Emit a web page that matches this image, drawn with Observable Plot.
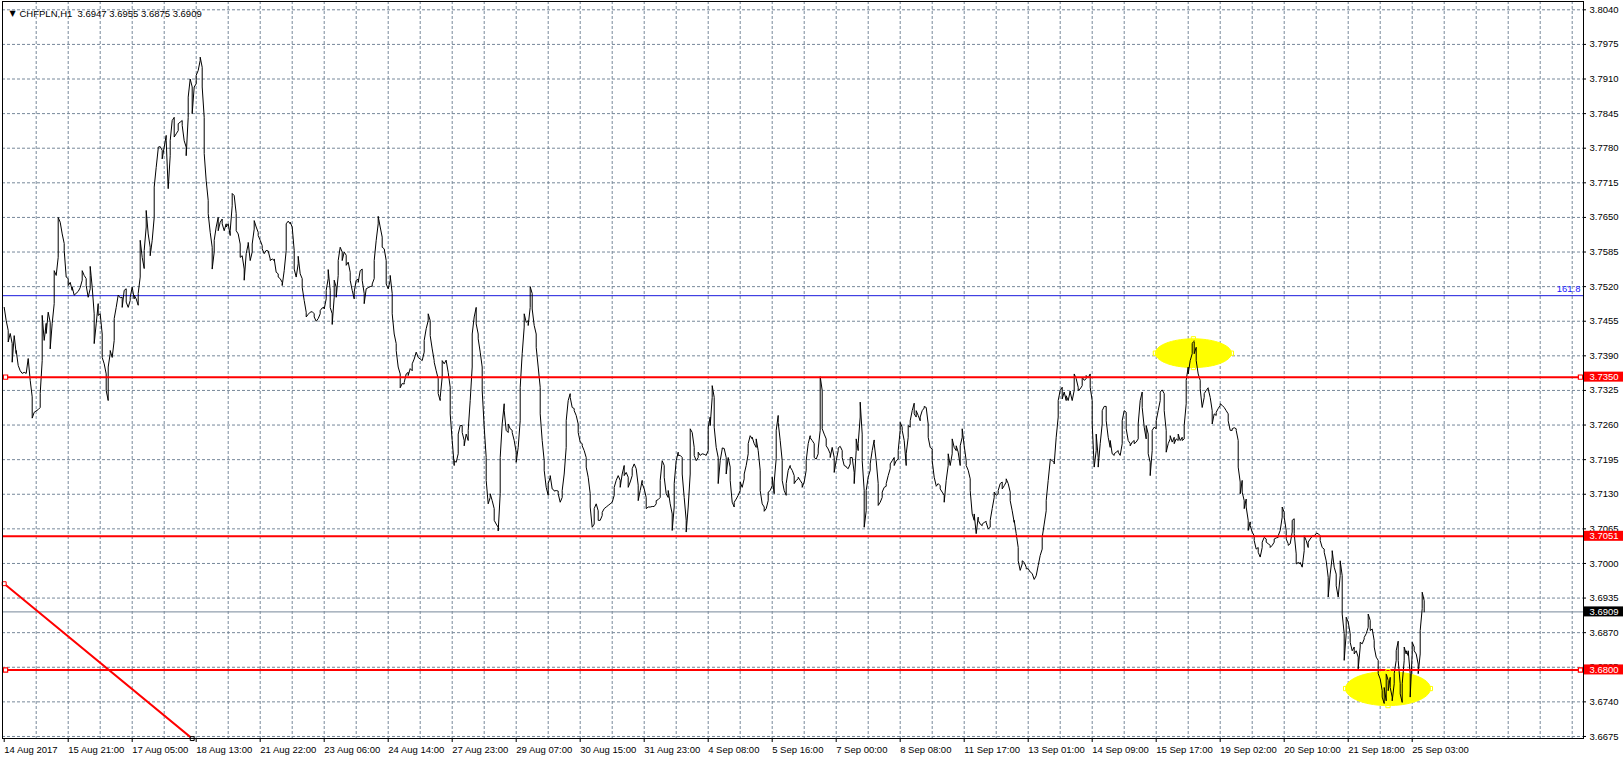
<!DOCTYPE html>
<html><head><meta charset="utf-8">
<script src="https://cdn.jsdelivr.net/npm/d3@7"></script>
<script src="https://cdn.jsdelivr.net/npm/@observablehq/plot@0.6"></script>
<style>html,body{margin:0;padding:0;background:#fff}svg{display:block}</style>
</head><body><div id="chart"></div>
<script>
// ---- data ----
const symbolTitle = "CHFPLN,H1  3.6947 3.6955 3.6875 3.6909";
const xTickLabels = ["14 Aug 2017","15 Aug 21:00","17 Aug 05:00","18 Aug 13:00","21 Aug 22:00","23 Aug 06:00","24 Aug 14:00","27 Aug 23:00","29 Aug 07:00","30 Aug 15:00","31 Aug 23:00","4 Sep 08:00","5 Sep 16:00","7 Sep 00:00","8 Sep 08:00","11 Sep 17:00","13 Sep 01:00","14 Sep 09:00","15 Sep 17:00","19 Sep 02:00","20 Sep 10:00","21 Sep 18:00","25 Sep 03:00"];
const barsPerLabel = 32;
const barsPerGrid = 16;
const yTickValues = [3.6675,3.6740,3.6805,3.6870,3.6935,3.7000,3.7065,3.7130,3.7195,3.7260,3.7325,3.7390,3.7455,3.7520,3.7585,3.7650,3.7715,3.7780,3.7845,3.7910,3.7975,3.8040];
const redLevels = [3.7350, 3.7051, 3.6800];
const redLevelsWithMarkers = [3.7350, 3.6800];
const bidPrice = 3.6909;
const fiboPrice = 3.7503;
const fiboText = "161.8";
const trendBars = [0, 94];
const trendPrices = [3.6962, 3.6671];
const ellipseCenterBars = [594.6, 691.9];
const ellipseCenterPrices = [3.7395, 3.6765];
const ellipseHalfBars = [19, 21.2];
const ellipseHalfPrices = [0.0027, 0.0032];
// hourly closes: [bar index, close]
const closes = [
[0,3.7481],[1,3.7456],[2,3.7438],[2,3.7416],[3,3.7432],[4,3.7413],[4,3.7378],[5,3.7428],[6,3.7394],[6,3.7400],[7,3.7372],[8,3.7362],[9,3.7357],[10,3.7359],[11,3.7357],[12,3.7385],[13,3.7344],[14,3.7313],[14,3.7273],[15,3.7284],[17,3.7289],[18,3.7293],[18,3.7319],[19,3.7381],[19,3.7466],[20,3.7419],[21,3.7451],[21,3.7432],[22,3.7472],[23,3.7453],[23,3.7403],[24,3.7451],[25,3.7488],[25,3.7550],[26,3.7541],[27,3.7575],[27,3.7650],[28,3.7641],[29,3.7619],[30,3.7601],[30,3.7588],[31,3.7538],[32,3.7535],[32,3.7522],[33,3.7528],[34,3.7513],[34,3.7519],[35,3.7504],[37,3.7511],[38,3.7518],[39,3.7532],[39,3.7550],[40,3.7541],[41,3.7535],[41,3.7522],[42,3.7500],[43,3.7516],[43,3.7541],[43,3.7558],[44,3.7519],[45,3.7469],[45,3.7413],[46,3.7450],[47,3.7488],[47,3.7466],[48,3.7469],[49,3.7431],[49,3.7387],[50,3.7375],[51,3.7356],[51,3.7325],[52,3.7306],[52,3.7369],[53,3.7394],[53,3.7400],[54,3.7387],[55,3.7419],[55,3.7460],[56,3.7481],[57,3.7504],[58,3.7499],[59,3.7500],[59,3.7481],[60,3.7513],[61,3.7516],[61,3.7491],[62,3.7481],[63,3.7494],[63,3.7500],[64,3.7519],[65,3.7497],[65,3.7504],[66,3.7497],[67,3.7485],[67,3.7507],[68,3.7538],[68,3.7607],[69,3.7575],[70,3.7554],[70,3.7588],[71,3.7632],[71,3.7663],[72,3.7619],[73,3.7594],[73,3.7578],[74,3.7607],[75,3.7650],[75,3.7707],[76,3.7744],[77,3.7779],[77,3.7782],[78,3.7783],[79,3.7776],[79,3.7760],[80,3.7782],[81,3.7804],[81,3.7794],[82,3.7704],[83,3.7766],[83,3.7794],[84,3.7832],[85,3.7838],[85,3.7801],[86,3.7807],[87,3.7813],[87,3.7826],[88,3.7829],[89,3.7832],[89,3.7823],[90,3.7794],[91,3.7782],[91,3.7766],[92,3.7838],[92,3.7876],[93,3.7910],[94,3.7895],[94,3.7845],[95,3.7895],[96,3.7901],[96,3.7917],[97,3.7926],[98,3.7945],[98,3.7951],[99,3.7932],[99,3.7895],[100,3.7838],[100,3.7770],[101,3.7719],[102,3.7682],[102,3.7657],[103,3.7622],[104,3.7594],[104,3.7553],[105,3.7585],[105,3.7607],[106,3.7632],[107,3.7650],[107,3.7625],[108,3.7641],[109,3.7647],[109,3.7638],[110,3.7625],[111,3.7638],[111,3.7632],[112,3.7638],[113,3.7616],[113,3.7625],[114,3.7672],[114,3.7695],[115,3.7691],[116,3.7657],[116,3.7625],[117,3.7619],[118,3.7600],[118,3.7575],[119,3.7578],[120,3.7553],[120,3.7532],[121,3.7582],[122,3.7600],[122,3.7603],[123,3.7569],[124,3.7585],[124,3.7600],[125,3.7628],[125,3.7644],[126,3.7632],[127,3.7622],[127,3.7616],[128,3.7607],[129,3.7597],[129,3.7591],[130,3.7582],[131,3.7588],[132,3.7587],[133,3.7572],[133,3.7569],[134,3.7572],[135,3.7569],[135,3.7572],[136,3.7547],[137,3.7544],[137,3.7538],[138,3.7535],[139,3.7528],[139,3.7522],[140,3.7550],[141,3.7588],[141,3.7638],[142,3.7643],[143,3.7638],[143,3.7641],[144,3.7632],[145,3.7588],[145,3.7553],[146,3.7538],[147,3.7563],[147,3.7577],[148,3.7544],[149,3.7535],[149,3.7519],[150,3.7494],[151,3.7472],[151,3.7463],[152,3.7468],[153,3.7472],[154,3.7473],[155,3.7469],[155,3.7463],[156,3.7455],[157,3.7460],[158,3.7469],[158,3.7475],[159,3.7480],[160,3.7481],[160,3.7478],[161,3.7497],[161,3.7513],[162,3.7535],[162,3.7552],[163,3.7513],[163,3.7481],[164,3.7469],[164,3.7449],[165,3.7500],[165,3.7532],[166,3.7519],[166,3.7500],[167,3.7541],[167,3.7569],[168,3.7594],[169,3.7585],[169,3.7569],[170,3.7585],[171,3.7579],[171,3.7560],[172,3.7566],[173,3.7547],[173,3.7532],[174,3.7513],[175,3.7497],[175,3.7510],[176,3.7532],[177,3.7534],[177,3.7528],[178,3.7550],[179,3.7553],[179,3.7532],[180,3.7507],[180,3.7488],[181,3.7516],[182,3.7518],[183,3.7520],[184,3.7521],[184,3.7525],[185,3.7535],[185,3.7569],[186,3.7607],[187,3.7638],[187,3.7652],[188,3.7632],[189,3.7613],[189,3.7594],[190,3.7591],[191,3.7569],[191,3.7525],[192,3.7516],[193,3.7532],[193,3.7541],[194,3.7507],[194,3.7469],[195,3.7431],[196,3.7413],[196,3.7400],[197,3.7369],[198,3.7356],[198,3.7330],[199,3.7338],[200,3.7337],[200,3.7340],[201,3.7356],[202,3.7359],[202,3.7353],[203,3.7366],[204,3.7362],[204,3.7375],[205,3.7384],[206,3.7397],
[207,3.7387],[208,3.7384],[209,3.7381],[210,3.7397],[210,3.7419],[211,3.7441],[212,3.7456],[212,3.7469],[213,3.7456],[213,3.7428],[214,3.7403],[215,3.7381],[215,3.7378],[216,3.7362],[217,3.7347],[217,3.7319],[218,3.7306],[218,3.7312],[219,3.7350],[219,3.7381],[220,3.7375],[221,3.7382],[221,3.7381],[222,3.7359],[223,3.7331],[223,3.7281],[224,3.7231],[225,3.7184],[225,3.7193],[226,3.7190],[227,3.7206],[227,3.7243],[228,3.7259],[229,3.7259],[229,3.7246],[230,3.7231],[230,3.7221],[231,3.7243],[232,3.7231],[232,3.7250],[233,3.7306],[234,3.7369],[234,3.7431],[235,3.7463],[236,3.7481],[236,3.7450],[237,3.7431],[237,3.7422],[238,3.7397],[239,3.7369],[239,3.7325],[240,3.7256],[241,3.7199],[241,3.7156],[242,3.7112],[243,3.7124],[243,3.7131],[244,3.7118],[245,3.7103],[245,3.7081],[246,3.7074],[247,3.7068],[247,3.7061],[248,3.7131],[248,3.7199],[249,3.7262],[250,3.7300],[250,3.7287],[251,3.7250],[252,3.7246],[252,3.7262],[253,3.7253],[254,3.7250],[254,3.7246],[255,3.7231],[256,3.7209],[256,3.7190],[257,3.7218],[258,3.7268],[258,3.7331],[259,3.7394],[260,3.7444],[260,3.7469],[261,3.7453],[262,3.7456],[262,3.7447],[263,3.7481],[263,3.7520],[264,3.7507],[264,3.7478],[265,3.7447],[266,3.7431],[266,3.7406],[267,3.7369],[268,3.7331],[268,3.7281],[269,3.7231],[270,3.7193],[270,3.7175],[271,3.7143],[272,3.7128],[272,3.7150],[273,3.7162],[273,3.7165],[274,3.7140],[275,3.7137],[275,3.7136],[276,3.7137],[277,3.7136],[277,3.7131],[278,3.7115],[279,3.7124],[279,3.7137],[280,3.7168],[281,3.7218],[281,3.7268],[282,3.7306],[283,3.7319],[283,3.7312],[284,3.7293],[285,3.7291],[285,3.7287],[286,3.7278],[287,3.7262],[287,3.7246],[288,3.7228],[289,3.7225],[289,3.7221],[290,3.7212],[291,3.7199],[291,3.7181],[292,3.7162],[293,3.7131],[293,3.7106],[294,3.7068],[295,3.7074],[295,3.7103],[296,3.7112],[297,3.7099],[297,3.7081],[298,3.7081],[299,3.7090],[299,3.7096],[300,3.7103],[301,3.7106],[302,3.7109],[303,3.7112],[304,3.7115],[305,3.7128],[305,3.7143],[306,3.7156],[307,3.7165],[308,3.7156],[308,3.7143],[309,3.7168],[310,3.7184],[310,3.7165],[311,3.7171],[312,3.7162],[312,3.7143],[313,3.7153],[314,3.7165],[314,3.7178],[315,3.7187],[316,3.7178],[317,3.7147],[317,3.7118],[318,3.7137],[319,3.7156],[319,3.7150],[320,3.7140],[321,3.7124],[321,3.7103],[322,3.7106],[323,3.7106],[324,3.7107],[325,3.7107],[326,3.7112],[326,3.7118],[327,3.7120],[328,3.7124],[328,3.7156],[329,3.7193],[330,3.7184],[330,3.7162],[331,3.7131],[332,3.7124],[332,3.7137],[333,3.7112],[334,3.7093],[334,3.7062],[335,3.7106],[335,3.7150],[336,3.7193],[337,3.7209],[337,3.7203],[338,3.7203],[339,3.7199],[339,3.7168],[340,3.7124],[341,3.7081],[341,3.7059],[342,3.7106],[343,3.7168],[343,3.7253],[344,3.7246],[345,3.7218],[345,3.7203],[346,3.7193],[347,3.7199],[347,3.7209],[348,3.7203],[349,3.7206],[350,3.7205],[351,3.7203],[352,3.7212],[352,3.7256],[353,3.7275],[353,3.7259],[354,3.7312],[354,3.7334],[355,3.7312],[355,3.7256],[356,3.7218],[357,3.7199],[357,3.7150],[358,3.7193],[359,3.7215],[359,3.7217],[360,3.7216],[361,3.7199],[361,3.7168],[362,3.7199],[363,3.7181],[363,3.7156],[364,3.7115],[365,3.7106],[365,3.7115],[366,3.7121],[367,3.7128],[368,3.7137],[368,3.7153],[369,3.7143],[370,3.7159],[370,3.7168],[371,3.7184],[372,3.7206],[372,3.7225],[373,3.7240],[374,3.7234],[374,3.7237],[375,3.7225],[376,3.7218],[376,3.7234],[377,3.7212],[378,3.7175],[378,3.7137],[379,3.7112],[380,3.7106],[380,3.7098],[381,3.7103],[382,3.7118],[382,3.7134],[383,3.7137],[384,3.7146],[384,3.7162],[385,3.7131],[385,3.7153],[386,3.7197],[386,3.7250],[387,3.7278],[387,3.7265],[388,3.7231],[389,3.7193],[389,3.7156],[390,3.7137],[391,3.7128],[391,3.7150],[392,3.7175],[393,3.7184],[393,3.7181],[394,3.7175],[395,3.7165],[395,3.7150],[396,3.7156],[397,3.7159],[397,3.7162],[398,3.7156],[399,3.7150],[399,3.7143],[400,3.7153],[401,3.7175],[401,3.7193],[402,3.7225],[403,3.7240],[403,3.7236],[404,3.7231],[405,3.7225],[405,3.7199],[406,3.7196],[407,3.7206],[407,3.7215],[408,3.7250],[408,3.7351],[409,3.7325],[409,3.7253],[410,3.7243],[411,3.7234],[411,3.7221],[412,3.7215],[413,3.7206],[413,3.7199],[414,3.7218],[415,3.7199],[415,3.7171],[416,3.7193],[417,3.7212],[417,3.7217],[418,3.7220],[419,3.7212],[419,3.7199],[420,3.7184],[421,3.7182],[421,3.7181],[422,3.7178],[423,3.7187],[423,3.7199],[424,3.7199],[425,3.7171],[425,3.7150],[426,3.7212],[426,3.7234],[427,3.7212],[427,3.7225],[428,3.7275],[428,3.7303],[429,3.7243],[429,3.7193],[430,3.7137],[430,3.7068],[431,3.7099],[431,3.7137],[432,3.7162],[433,3.7175],[433,3.7187],[434,3.7212],[435,3.7232],[435,3.7225],[436,3.7193],[437,3.7150],[437,3.7109],[438,3.7115],[439,3.7124],[439,3.7134],[440,3.7143],[441,3.7145],[441,3.7150],[442,3.7165],[443,3.7178],[443,3.7187],[444,3.7193],[445,3.7199],[445,3.7184],[446,3.7193],[447,3.7196],[447,3.7212],[448,3.7250],[448,3.7265],[449,3.7256],[449,3.7250],[450,3.7231],[451,3.7184],[451,3.7206],[452,3.7237],[452,3.7259],[453,3.7256],[453,3.7268],[454,3.7287],[455,3.7301],[455,3.7281],[456,3.7275],[456,3.7287],[457,3.7278],[458,3.7268],[458,3.7275],[459,3.7287],[460,3.7292],[460,3.7295],[461,3.7293],[462,3.7262],[462,3.7237],[463,3.7218],[464,3.7215],[464,3.7193],[465,3.7162],[466,3.7146],[466,3.7145],[467,3.7150],[468,3.7146],[468,3.7140],[469,3.7134],[470,3.7128],[470,3.7115],[471,3.7156],[472,3.7184],[472,3.7206],[473,3.7184],[474,3.7206],[474,3.7234],[475,3.7218],[476,3.7212],[476,3.7221],[477,3.7209],[478,3.7184],[478,3.7221],[479,3.7237],[479,3.7253],[480,3.7221],[481,3.7193],[481,3.7184],[482,3.7175],[483,3.7159],[483,3.7137],[484,3.7093],[485,3.7081],[485,3.7093],[486,3.7056],[487,3.7087],[487,3.7081],[488,3.7074],[489,3.7071],[489,3.7074],[490,3.7077],[491,3.7079],[491,3.7077],[492,3.7065],[493,3.7068],[493,3.7081],[494,3.7103],[495,3.7124],[495,3.7134],[496,3.7128],[497,3.7131],[497,3.7137],[498,3.7150],[499,3.7153],[499,3.7140],[500,3.7146],[501,3.7153],[501,3.7159],[502,3.7150],[503,3.7134],[503,3.7118],[504,3.7099],[505,3.7077],[505,3.7081],[506,3.7056],[507,3.7030],[507,3.7005],[508,3.6987],[509,3.6999],[509,3.7005],[510,3.7002],[511,3.6993],[511,3.6990],[512,3.6990],[513,3.6984],[514,3.6981],[515,3.6970],[516,3.6977],[517,3.6996],[518,3.7015],[519,3.7027],[519,3.7049],[520,3.7074],[521,3.7099],[521,3.7118],[522,3.7156],[523,3.7193],[523,3.7196],[524,3.7193],[525,3.7190],[525,3.7187],[526,3.7237],[527,3.7275],[527,3.7306],[528,3.7325],[529,3.7331],[529,3.7309],[530,3.7322],[531,3.7306],[531,3.7315],[532,3.7306],[533,3.7324],[533,3.7322],[534,3.7306],[535,3.7325],[535,3.7356],[536,3.7347],[537,3.7331],[537,3.7325],[538,3.7328],[539,3.7334],[539,3.7350],[540,3.7344],[541,3.7347],[541,3.7353],[542,3.7349],[543,3.7356],[543,3.7331],[544,3.7306],[544,3.7262],[545,3.7181],[546,3.7212],[546,3.7243],[547,3.7199],[547,3.7181],[548,3.7225],[549,3.7262],[549,3.7287],[550,3.7295],[551,3.7295],[551,3.7268],[552,3.7237],[553,3.7218],[553,3.7231],[554,3.7206],[555,3.7203],[555,3.7206],[556,3.7209],[557,3.7212],[557,3.7209],[558,3.7203],[559,3.7225],[559,3.7268],[560,3.7287],[561,3.7284],[561,3.7253],[562,3.7231],[563,3.7225],[563,3.7221],[564,3.7228],[565,3.7231],[565,3.7225],[566,3.7228],[567,3.7234],[567,3.7262],[568,3.7306],[569,3.7322],[569,3.7293],[570,3.7256],[571,3.7234],[571,3.7259],[572,3.7243],[572,3.7206],[573,3.7190],[573,3.7165],[574,3.7212],[574,3.7250],[575,3.7256],[576,3.7253],[576,3.7268],[577,3.7287],[578,3.7306],[578,3.7322],[579,3.7326],[580,3.7319],[580,3.7287],[581,3.7250],[581,3.7209],[582,3.7225],[583,3.7234],[583,3.7240],[584,3.7228],[585,3.7237],[585,3.7225],[586,3.7234],[587,3.7231],[587,3.7243],[588,3.7231],[589,3.7237],[589,3.7231],[590,3.7234],[590,3.7259],[591,3.7300],[591,3.7344],[592,3.7369],[592,3.7356],[593,3.7381],[594,3.7394],[594,3.7413],[595,3.7419],[595,3.7394],[596,3.7406],[596,3.7381],[597,3.7356],[598,3.7344],[598,3.7328],[599,3.7293],[600,3.7312],[600,3.7319],[601,3.7325],[602,3.7330],[602,3.7328],[603,3.7312],[604,3.7287],[604,3.7262],[605,3.7281],[606,3.7278],[606,3.7284],[607,3.7291],[608,3.7297],[608,3.7300],[609,3.7297],[610,3.7293],[611,3.7287],[612,3.7281],[612,3.7268],[613,3.7250],[614,3.7250],[614,3.7253],[615,3.7255],[616,3.7253],[616,3.7250],[617,3.7231],[617,3.7181],[618,3.7153],[618,3.7131],[619,3.7156],[619,3.7134],[620,3.7118],[620,3.7103],[621,3.7121],[621,3.7106],[622,3.7081],[622,3.7062],[623,3.7078],[623,3.7071],[624,3.7059],[625,3.7052],[625,3.7043],[626,3.7027],[627,3.7030],[627,3.7021],[628,3.7012],[629,3.7030],[629,3.7040],[630,3.7049],[631,3.7046],[631,3.7040],[632,3.7037],[633,3.7034],[633,3.7030],[634,3.7034],[635,3.7040],[635,3.7046],[636,3.7048],[637,3.7049],[637,3.7052],[638,3.7062],[639,3.7087],[639,3.7106],[640,3.7096],[640,3.7087],[641,3.7062],[641,3.7046],[642,3.7037],[642,3.7034],[643,3.7037],[644,3.7059],[644,3.7081],[645,3.7084],[645,3.7056],[646,3.7018],[646,3.6999],[647,3.7002],[648,3.6999],[648,3.7002],[649,3.6993],[650,3.7024],[650,3.7052],[651,3.7043],[652,3.7030],[652,3.7040],[653,3.7046],[654,3.7051],[654,3.7052],[655,3.7052],[656,3.7056],[656,3.7057],[657,3.7056],[658,3.7052],[658,3.7043],[659,3.7030],[660,3.7027],[660,3.7021],[661,3.7005],[662,3.6974],[662,3.6937],[663,3.6980],[664,3.7012],[664,3.7024],[665,3.6993],[666,3.6980],[666,3.6958],[667,3.6937],[668,3.6977],[668,3.7005],[669,3.6977],[669,3.6905],[670,3.6868],[670,3.6836],[670,3.6818],[671,3.6868],[671,3.6899],[672,3.6890],[673,3.6868],[673,3.6852],[674,3.6836],[675,3.6843],[675,3.6830],[676,3.6836],[677,3.6824],[677,3.6802],[678,3.6843],[678,3.6852],[679,3.6849],[680,3.6858],[680,3.6861],[681,3.6868],[682,3.6880],[682,3.6905],[683,3.6893],[683,3.6874],[684,3.6877],[685,3.6855],[685,3.6843],[686,3.6824],[687,3.6818],[687,3.6793],[688,3.6783],[689,3.6761],[689,3.6749],[690,3.6737],[690,3.6767],[691,3.6742],[691,3.6793],[692,3.6780],[692,3.6761],[693,3.6786],[693,3.6767],[694,3.6749],[694,3.6742],[695,3.6774],[695,3.6793],[696,3.6818],[696,3.6836],[697,3.6854],[697,3.6818],[698,3.6774],[698,3.6755],[699,3.6739],[699,3.6774],[700,3.6818],[700,3.6843],[701,3.6830],[701,3.6836],[702,3.6827],[702,3.6836],[703,3.6793],[703,3.6749],[704,3.6830],[704,3.6852],[705,3.6843],[705,3.6836],[706,3.6830],[707,3.6811],[707,3.6793],[708,3.6830],[708,3.6874],[709,3.6915],[709,3.6946],[710,3.6930],[710,3.6909]
];

// ---- layout ----
const W = 1623, H = 759;
const mL = 2, mR = 40, mT = 1, mB = 21;
const xDom = [-0.85, 789.65];           // 2 px per hourly bar
const yDom = [3.66712, 3.80556];
const pxPerBar = (W - mL - mR) / (xDom[1] - xDom[0]);
const pxPerPrice = (H - mT - mB) / (yDom[1] - yDom[0]);
const bx = px => px / pxPerBar;          // pixels -> bars
const py = px => px / pxPerPrice;        // pixels -> price

const labelBars = xTickLabels.map((_, i) => i * barsPerLabel);
const gridBars = d3.range(barsPerGrid, xDom[1], barsPerGrid);

const grid = "#77889a";
const dash = "3,2";

// ellipse outlines (shape geometry around the annotated centres)
const ellipsePts = [];
ellipseCenterBars.forEach((cb, k) => {
  for (let t = 0; t < 72; t++) {
    const a = t / 72 * 2 * Math.PI;
    ellipsePts.push({k, x: cb + ellipseHalfBars[k] * Math.cos(a), y: ellipseCenterPrices[k] + ellipseHalfPrices[k] * Math.sin(a)});
  }
});
const ellipseHandles = [];
ellipseCenterBars.forEach((cb, k) => {
  ellipseHandles.push({x: cb - ellipseHalfBars[k], y: ellipseCenterPrices[k]});
  ellipseHandles.push({x: cb + ellipseHalfBars[k], y: ellipseCenterPrices[k]});
  ellipseHandles.push({x: cb, y: ellipseCenterPrices[k] + ellipseHalfPrices[k]});
  ellipseHandles.push({x: cb, y: ellipseCenterPrices[k] - ellipseHalfPrices[k]});
});
const trend = trendBars.map((b, i) => ({x: b, y: trendPrices[i]}));

const boxes = [
  ...redLevels.map(p => ({p, fill: "#ff0000"})),
  {p: bidPrice, fill: "#000000"}
];
const boxH = py(10);

const chart = Plot.plot({
  width: W, height: H,
  marginLeft: mL, marginRight: mR, marginTop: mT, marginBottom: mB,
  x: {type: "linear", domain: xDom, axis: null},
  y: {type: "linear", domain: yDom, axis: null},
  style: {fontFamily: "'Liberation Sans', Arial, sans-serif", fontSize: "9.5px", background: "#fff", color: "#000", overflow: "visible"},
  marks: [
    // dashed grid
    Plot.ruleY(yTickValues, {y: d => d, stroke: grid, strokeDasharray: dash, strokeWidth: 1}),
    Plot.ruleX(gridBars, {x: d => d, stroke: grid, strokeDasharray: dash, strokeWidth: 1}),
    // yellow ellipse highlights
    Plot.line(ellipsePts, {x: "x", y: "y", z: "k", fill: "#ffff00", stroke: "#ffff00", strokeWidth: 1, curve: "linear-closed"}),
    // bid line and fibo level
    Plot.ruleY([bidPrice], {y: d => d, stroke: "#778899", strokeWidth: 1}),
    Plot.ruleY([fiboPrice], {y: d => d, stroke: "#1a1adc", strokeWidth: 1}),
    Plot.text([fiboPrice], {x: xDom[1], y: d => d, text: () => fiboText, textAnchor: "end", dx: -3, dy: -7, fill: "#1a1aff", fontSize: 9.5}),
    // price line
    Plot.line(closes, {x: d => d[0], y: d => d[1], stroke: "#000", strokeWidth: 1, strokeLinejoin: "miter"}),
    // horizontal support/resistance
    Plot.ruleY(redLevels, {y: d => d, stroke: "#ff0000", strokeWidth: 2}),
    Plot.dot(redLevelsWithMarkers.flatMap(p => [{x: bx(1.3), y: p}, {x: xDom[1] - bx(3), y: p}]), {x: "x", y: "y", symbol: "square", r: 2.4, fill: "#fff", stroke: "#ff0000", strokeWidth: 1.2}),
    // trend line
    Plot.line(trend, {x: "x", y: "y", stroke: "#ff0000", strokeWidth: 2, clip: true}),
    Plot.dot(trend.slice(0, 1), {x: "x", y: "y", symbol: "square", r: 2.2, fill: "#fff", stroke: "#ff0000", strokeWidth: 1}),
    Plot.dot(trend.slice(1), {x: "x", y: "y", symbol: "square", r: 2.2, fill: "#fff", stroke: "#000", strokeWidth: 1}),
    // ellipse handles
    Plot.dot(ellipseHandles, {x: "x", y: "y", symbol: "square", r: 2.4, fill: "none", stroke: "#ffff00", strokeWidth: 1}),
    // frame
    Plot.frame({stroke: "#000", strokeWidth: 1}),
    // right price axis
    Plot.ruleY(yTickValues, {y: d => d, x1: xDom[1], x2: xDom[1] + bx(3), stroke: "#000"}),
    Plot.text(yTickValues, {x: xDom[1], y: d => d, text: d => d.toFixed(4), textAnchor: "start", dx: 6, fill: "#000", fontSize: 9.5}),
    Plot.rect(boxes, {x1: xDom[1] + bx(1), x2: xDom[1] + bx(40), y1: d => d.p - boxH / 2, y2: d => d.p + boxH / 2, fill: d => d.fill}),
    Plot.text(boxes, {x: xDom[1], y: d => d.p, text: d => d.p.toFixed(4), textAnchor: "start", dx: 6, fill: "#fff", fontSize: 9.5}),
    // bottom time axis
    Plot.ruleX(labelBars, {x: d => d, y1: yDom[0], y2: yDom[0] - py(4), stroke: "#000"}),
    Plot.text(labelBars, {x: d => d, y: yDom[0], text: (d, i) => xTickLabels[i], textAnchor: "start", dx: 0, dy: 11, fill: "#000", fontSize: 9.5}),
    // title
    Plot.text(["\u25BC"], {frameAnchor: "top-left", dx: 7, dy: 9, text: d => d, fontSize: 8, fontFamily: "DejaVu Sans", fill: "#000"}),
    Plot.text([symbolTitle], {frameAnchor: "top-left", dx: 17, dy: 9, text: d => d, textAnchor: "start", fontSize: 9.5, fill: "#000"})
  ]
});
document.getElementById("chart").appendChild(chart);
</script>
</body></html>
